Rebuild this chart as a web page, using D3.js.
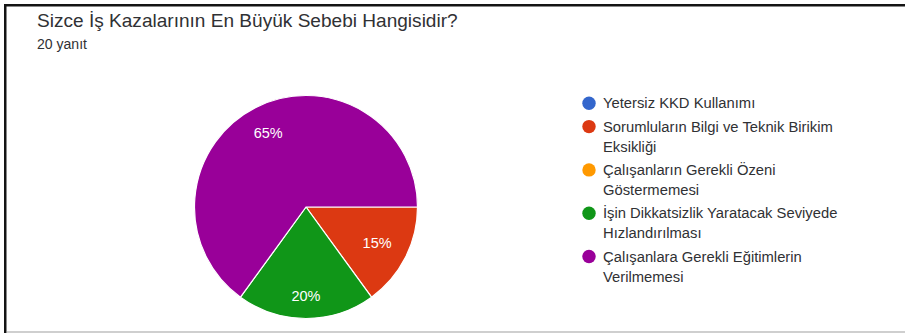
<!DOCTYPE html>
<html><head><meta charset="utf-8">
<script src="https://cdn.jsdelivr.net/npm/d3@7"></script>
<style>body{margin:0;background:#fff;} svg{display:block;font-family:"Liberation Sans",Arial,sans-serif;}</style>
</head><body>
<svg id="chart" width="905" height="333"></svg>
<script>
const title = "Sizce İş Kazalarının En Büyük Sebebi Hangisidir?";
const subtitle = "20 yanıt";
const categories = [
  "Yetersiz KKD Kullanımı",
  "Sorumluların Bilgi ve Teknik Birikim Eksikliği",
  "Çalışanların Gerekli Özeni Göstermemesi",
  "İşin Dikkatsizlik Yaratacak Seviyede Hızlandırılması",
  "Çalışanlara Gerekli Eğitimlerin Verilmemesi"
];
const counts = [0, 3, 0, 4, 13];
const colors = ["#3366cc", "#dc3912", "#ff9900", "#109618", "#990099"];

const svg = d3.select("#chart");
const W = 905, H = 333;

// font size so that a sample text has a target width
function fitSize(sample, target, weight) {
  const p = svg.append("text").attr("font-size", 100).attr("font-weight", weight || "normal").text(sample);
  const w = p.node().getComputedTextLength();
  p.remove();
  return 100 * target / w;
}
const titleSize = fitSize(title, 421);
const subSize = fitSize(subtitle, 50);
const legSize = fitSize("Sorumluluların Bilgi ve Teknik Birikim".replace("Sorumluluların", "Sorumluların"), 230);
const pctSize = fitSize("65%", 29);

// frame
svg.append("rect").attr("x", 7).attr("y", 331).attr("width", W - 7).attr("height", 2).attr("fill", "#cfcfcf");
svg.append("rect").attr("x", 4).attr("y", 4).attr("width", W - 4).attr("height", 2.5).attr("fill", "#141414");
svg.append("rect").attr("x", 4).attr("y", 4).attr("width", 2.5).attr("height", H - 4).attr("fill", "#141414");

svg.append("text").attr("x", 37).attr("y", 27).attr("font-size", titleSize).attr("fill", "#303134").text(title);
svg.append("text").attr("x", 37).attr("y", 48.5).attr("font-size", subSize)
  .attr("fill", "#303134").text(subtitle);

const data = categories.map((c, i) => ({cat: c, value: counts[i], color: colors[i]}));
const total = d3.sum(counts);
const cx = 306, cy = 207, R = 111.5;

const pie = d3.pie().value(d => d.value).sort(null).startAngle(Math.PI / 2).endAngle(Math.PI / 2 + 2 * Math.PI);
const arcs = pie(data);
const arc = d3.arc().innerRadius(0).outerRadius(R);
const g = svg.append("g").attr("transform", `translate(${cx},${cy})`);
g.selectAll("path").data(arcs.filter(a => a.value > 0)).join("path")
  .attr("d", arc).attr("fill", d => d.data.color)
  .attr("stroke", "#ffffff").attr("stroke-width", 1.2);

// labels: farthest corner of text box at radius labelR
const labelR = 95;
arcs.filter(a => a.value > 0).forEach(a => {
  const t = g.append("text").attr("font-size", pctSize).attr("fill", "#ffffff")
    .attr("text-anchor", "middle").attr("dominant-baseline", "central")
    .text(d3.format(".0%")(a.value / total));
  const w = t.node().getComputedTextLength() / 2, h = 5;
  const mid = (a.startAngle + a.endAngle) / 2;
  const ux = Math.sin(mid), uy = -Math.cos(mid);
  const c = [Math.sign(ux) * w, Math.sign(uy) * h];
  const uc = ux * c[0] + uy * c[1];
  const cc = c[0] * c[0] + c[1] * c[1];
  const tt = -uc + Math.sqrt(uc * uc - cc + labelR * labelR);
  t.attr("x", tt * ux).attr("y", tt * uy);
});

// legend
const lx = 589, ly0 = 103.3, lineH = 20, itemGap = 23.3, maxW = 242;
let y = ly0;
data.forEach(d => {
  svg.append("circle").attr("cx", lx).attr("cy", y).attr("r", 6.7).attr("fill", d.color);
  const words = d.cat.split(" ");
  const lines = [];
  let cur = "";
  const probe = svg.append("text").attr("font-size", legSize);
  words.forEach(wd => {
    const test = cur ? cur + " " + wd : wd;
    probe.text(test);
    if (probe.node().getComputedTextLength() > maxW && cur) { lines.push(cur); cur = wd; }
    else cur = test;
  });
  lines.push(cur);
  probe.remove();
  lines.forEach((ln, i) => {
    svg.append("text").attr("x", 603).attr("y", y + i * lineH)
      .attr("dominant-baseline", "central").attr("font-size", legSize).attr("fill", "#303134").text(ln);
  });
  y += (lines.length - 1) * lineH + itemGap;
});
</script>
</body></html>
